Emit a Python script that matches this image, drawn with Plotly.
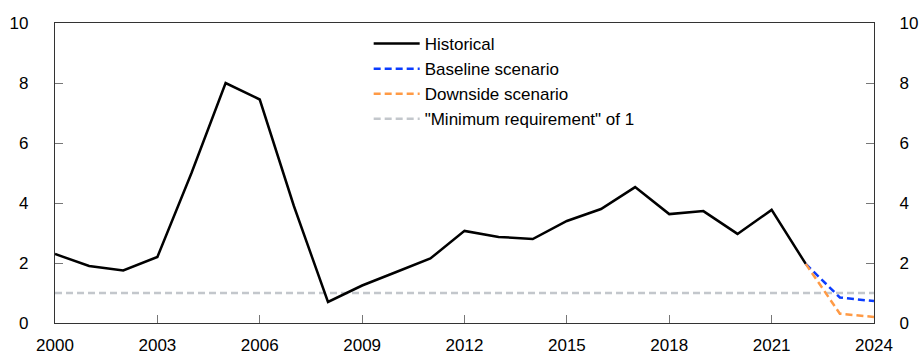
import plotly.graph_objects as go

years = list(range(2000, 2023))
historical = [2.3, 1.9, 1.75, 2.2, 5.0, 8.0, 7.45, 3.9, 0.7, 1.25, 1.7, 2.15, 3.07,
              2.87, 2.8, 3.4, 3.8, 4.53, 3.63, 3.73, 2.97, 3.77, 1.97]
scen_years = [2022, 2023, 2024]
baseline = [1.97, 0.85, 0.73]
downside = [1.97, 0.31, 0.2]
min_years = [2000, 2024]
min_req = [1, 1]

FONT = "Liberation Sans, Arial, sans-serif"
DASH = "7px,4px"
fig = go.Figure()
fig.add_trace(go.Scatter(x=min_years, y=min_req, mode="lines", name='"Minimum requirement" of 1',
                         legendrank=4, line=dict(color="#c3c7cc", width=2.5, dash=DASH)))
fig.add_trace(go.Scatter(x=years, y=historical, mode="lines", name="Historical",
                         legendrank=1, line=dict(color="black", width=2.5)))
fig.add_trace(go.Scatter(x=scen_years, y=baseline, mode="lines", name="Baseline scenario",
                         legendrank=2, line=dict(color="#0a3cff", width=2.5, dash=DASH)))
fig.add_trace(go.Scatter(x=scen_years, y=downside, mode="lines", name="Downside scenario",
                         legendrank=3, line=dict(color="#ff9a45", width=2.5, dash=DASH)))
fig.add_trace(go.Scatter(x=min_years, y=min_req, mode="lines", yaxis="y2", showlegend=False,
                         hoverinfo="skip", line=dict(color="rgba(0,0,0,0)", width=0)))

axis_common = dict(showgrid=False, zeroline=False, linecolor="#333", linewidth=1.2,
                   ticks="inside", ticklen=8, tickcolor="#777", tickwidth=1,
                   automargin=False,
                   tickfont=dict(family=FONT, size=17, color="black"))
fig.update_layout(
    width=921, height=354,
    margin=dict(l=55, r=47, t=23, b=31),
    paper_bgcolor="white", plot_bgcolor="white",
    font=dict(family=FONT, size=17, color="black"),
    xaxis=dict(range=[2000, 2024], tick0=2000, dtick=3, mirror=True,
               ticklabelstandoff=6, **axis_common),
    yaxis=dict(range=[0, 10], dtick=2, mirror=True, ticklabelstandoff=22, **axis_common),
    yaxis2=dict(range=[0, 10], dtick=2, overlaying="y", side="right",
                ticklabelstandoff=21, **axis_common),
    legend=dict(x=0.383, y=0.99, xanchor="left", yanchor="top", bgcolor="rgba(0,0,0,0)",
                font=dict(family=FONT, size=17), tracegroupgap=0, itemwidth=46,
                traceorder="normal"),
    showlegend=True,
)
fig.write_html("out.html", config={"displayModeBar": False},
               post_script="document.body.style.margin='0';document.body.style.overflow='hidden';")
